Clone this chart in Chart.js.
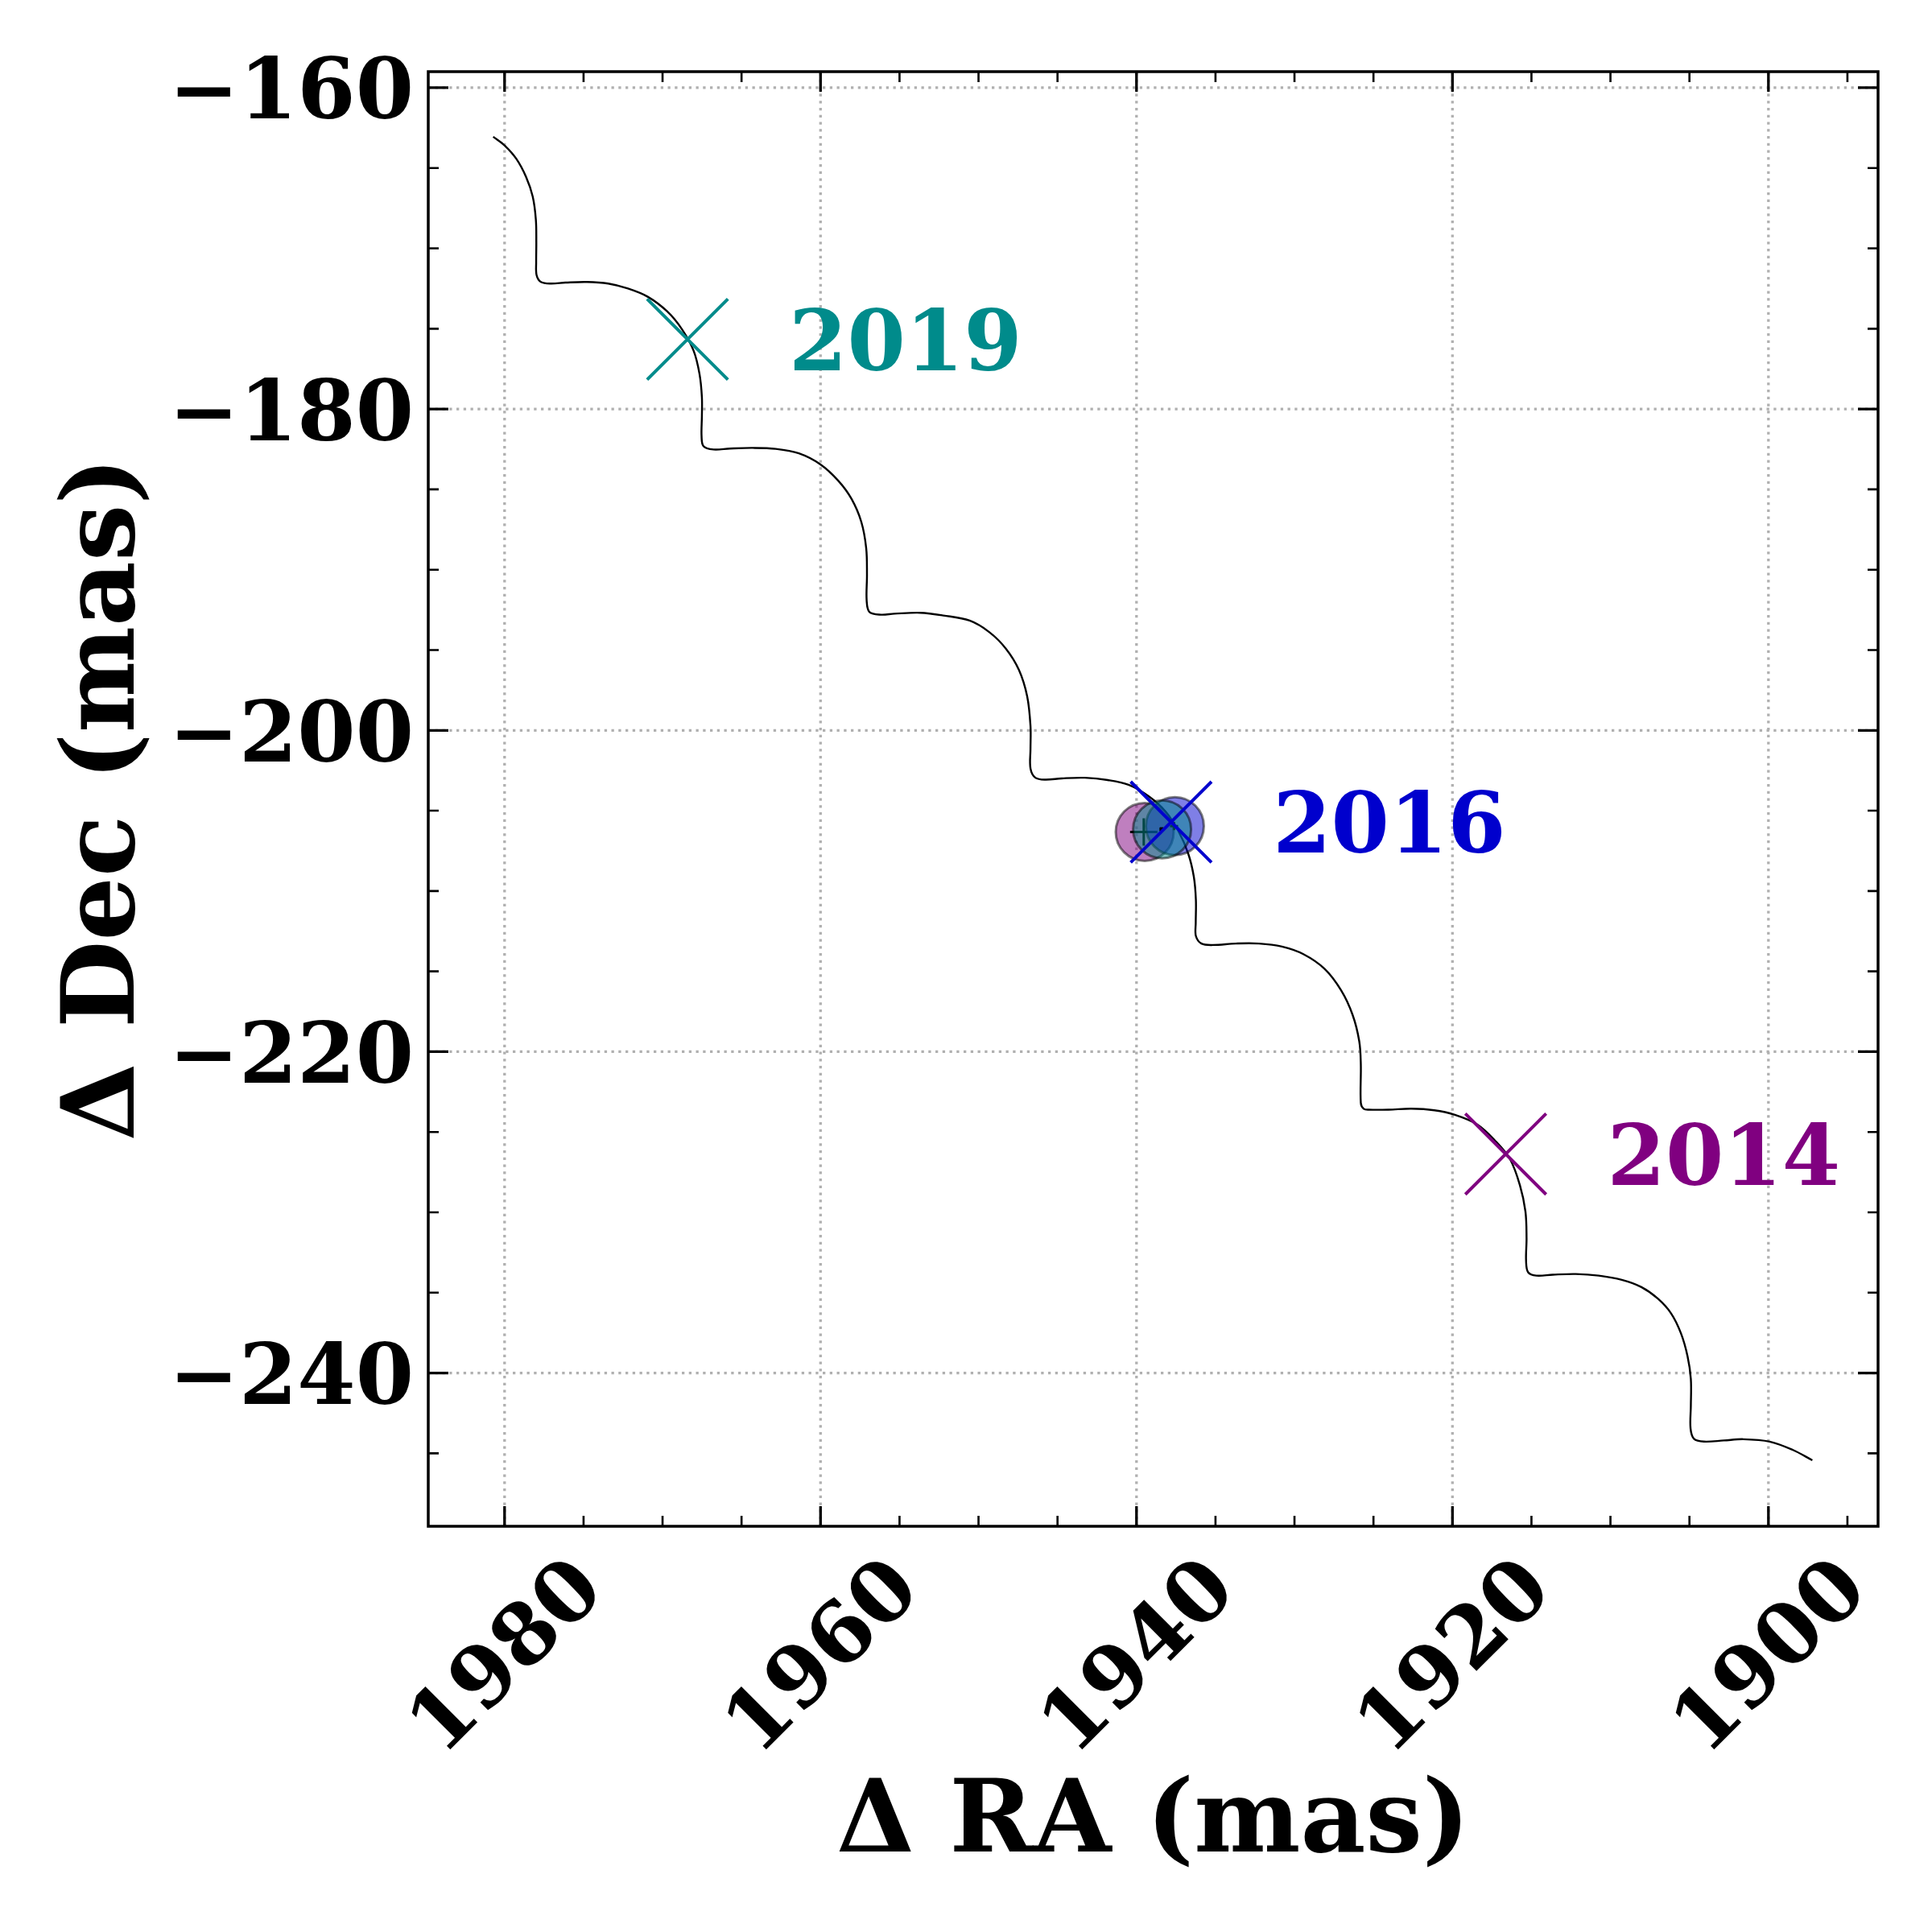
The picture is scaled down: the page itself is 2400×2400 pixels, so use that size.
<!DOCTYPE html>
<html><head><meta charset="utf-8">
<script src="https://cdn.jsdelivr.net/npm/chart.js@4.4.1/dist/chart.umd.min.js"></script>
<style>html,body{margin:0;padding:0;background:#fff;overflow:hidden;}#wrap{width:2400px;height:2400px;}</style>
</head><body><div id="wrap"><canvas id="c" width="2400" height="2400"></canvas></div>
<script>
// Parallax / proper-motion track (Delta RA, Delta Dec in mas)
const trackRA = [1980.72,1979.99,1979.26,1978.64,1978.22,1978.02,1977.99,1978.0,1977.97,1977.7,1977.08,1976.14,1974.79,1973.44,1972.19,1970.94,1969.7,1968.76,1968.03,1967.66,1967.51,1967.51,1967.53,1967.41,1966.78,1965.74,1964.29,1962.83,1961.37,1960.02,1958.88,1958.04,1957.42,1957.11,1957.06,1957.08,1956.9,1956.17,1955.34,1953.68,1952.22,1950.56,1949.31,1948.27,1947.44,1946.92,1946.71,1946.71,1946.71,1946.4,1945.77,1944.73,1943.27,1941.82,1940.47,1939.22,1938.18,1937.35,1936.72,1936.37,1936.24,1936.25,1936.24,1935.89,1935.16,1933.71,1932.25,1930.79,1929.44,1928.09,1927.05,1926.32,1925.9,1925.8,1925.8,1925.62,1925.3,1924.05,1922.6,1921.14,1919.89,1918.44,1917.29,1916.36,1915.73,1915.38,1915.31,1915.34,1915.21,1914.69,1913.65,1912.19,1910.74,1909.28,1908.04,1907.0,1906.16,1905.54,1905.12,1904.91,1904.91,1904.93,1904.71,1904.08,1902.83,1901.59,1899.92,1898.47,1897.22];
const trackDec = [-163.05,-163.6,-164.42,-165.55,-166.77,-168.2,-169.64,-170.86,-171.68,-172.09,-172.19,-172.13,-172.09,-172.19,-172.5,-173.01,-173.93,-175.05,-176.38,-177.82,-179.25,-180.47,-181.7,-182.31,-182.52,-182.46,-182.42,-182.48,-182.76,-183.44,-184.46,-185.59,-187.02,-188.65,-190.29,-191.93,-192.64,-192.8,-192.74,-192.68,-192.85,-193.17,-193.89,-194.91,-196.24,-197.88,-199.72,-201.15,-202.37,-202.95,-203.07,-202.99,-202.95,-203.09,-203.4,-204.11,-205.03,-206.26,-207.69,-209.12,-210.55,-211.99,-212.8,-213.27,-213.36,-213.27,-213.27,-213.46,-213.93,-214.85,-216.18,-217.71,-219.35,-220.78,-223.19,-223.55,-223.61,-223.61,-223.55,-223.65,-223.92,-224.53,-225.55,-226.68,-228.31,-229.95,-231.59,-233.02,-233.73,-233.94,-233.88,-233.84,-233.94,-234.2,-234.65,-235.37,-236.29,-237.52,-238.95,-240.38,-242.02,-243.45,-244.1,-244.27,-244.2,-244.12,-244.27,-244.78,-245.43];

// Predicted positions at epochs (X markers) and their labels
const epochNames = ['2019','2016','2014'];
const epochRA = [1968.42,1937.81,1916.63];
const epochDec = [-175.66,-205.71,-226.37];
const epochColors = ['#008b8b','#0000cd','#800080'];
const epochLabelRA = [1962.0,1931.37,1910.2];

// Measured positions (circles): 2014 purple, 2016 blue, 2019 teal
const measRA = [1939.48,1937.57,1938.38];
const measDec = [-206.32,-205.96,-206.16];
const measColors = ['rgba(128,0,128,0.5)','rgba(0,0,205,0.5)','rgba(0,139,139,0.5)'];
// small central markers
const plusRA = [1939.54,1937.62];
const plusDec = [-206.32,-205.96];
const dotRA = [1938.41];
const dotDec = [-206.16];

// Axes
const xMin = 1893.06, xMax = 1984.83;
const yMin = -249.54, yMax = -159.0;
const xTicks = [1980,1960,1940,1920,1900];
const xTickLabels = ['1980','1960','1940','1920','1900'];
const yTicks = [-160,-180,-200,-220,-240];
const yTickLabels = ['\u2212160','\u2212180','\u2212200','\u2212220','\u2212240'];
const minorStep = 5;
const xTitle = '\u0394 RA (mas)';
const yTitle = '\u0394 Dec (mas)';

const FONT = '"DejaVu Serif", "Liberation Serif", serif';
const TICK_PX = 104, TITLE_PX = 125;

const pts = (xs, ys) => xs.map((x, i) => ({x: x, y: ys[i]}));

const datasets = [];
datasets.push({data: pts(trackRA, trackDec), showLine: true, borderColor: '#000', borderWidth: 2.4,
  pointRadius: 0, tension: 0.35, fill: false, order: 30});
// purple circle
datasets.push({data: pts([measRA[0]], [measDec[0]]), pointRadius: 36, pointBackgroundColor: measColors[0],
  pointBorderColor: 'rgba(0,0,0,0.5)', pointBorderWidth: 3, order: 29});
datasets.push({data: pts([plusRA[0]], [plusDec[0]]), pointStyle: 'cross', pointRadius: 17,
  pointBorderColor: '#000', pointBorderWidth: 3, order: 28});
// blue circle
datasets.push({data: pts([measRA[1]], [measDec[1]]), pointRadius: 36, pointBackgroundColor: measColors[1],
  pointBorderColor: 'rgba(0,0,0,0.5)', pointBorderWidth: 3, order: 27});
datasets.push({data: pts([plusRA[1]], [plusDec[1]]), pointStyle: 'cross', pointRadius: 5,
  pointBorderColor: '#000', pointBorderWidth: 3, order: 26});
// teal circle
datasets.push({data: pts([measRA[2]], [measDec[2]]), pointRadius: 36, pointBackgroundColor: measColors[2],
  pointBorderColor: 'rgba(0,0,0,0.5)', pointBorderWidth: 3, order: 25});
datasets.push({data: pts(dotRA, dotDec), pointStyle: 'rect', pointRadius: 3,
  pointBackgroundColor: '#000', pointBorderColor: '#000', pointBorderWidth: 1, order: 24});
// X markers
epochRA.forEach((x, i) => {
  datasets.push({data: [{x: x, y: epochDec[i]}], pointStyle: 'crossRot', pointRadius: 71,
    pointBorderColor: epochColors[i], pointBorderWidth: 4, order: 10 - i});
});

const axesPlugin = {
  id: 'mplAxes',
  beforeDatasetsDraw(chart) {
    const {ctx, chartArea: a, scales: {x, y}} = chart;
    ctx.save();
    ctx.strokeStyle = '#b0b0b0';
    ctx.lineWidth = 3.3;
    ctx.setLineDash([3.3, 5.45]);
    xTicks.forEach(v => {
      const px = x.getPixelForValue(v);
      ctx.beginPath(); ctx.moveTo(px, a.bottom); ctx.lineTo(px, a.top); ctx.stroke();
    });
    yTicks.forEach(v => {
      const py = y.getPixelForValue(v);
      ctx.beginPath(); ctx.moveTo(a.left, py); ctx.lineTo(a.right, py); ctx.stroke();
    });
    ctx.restore();
  },
  afterDatasetsDraw(chart) {
    const {ctx, chartArea: a, scales: {x, y}} = chart;
    ctx.save();
    // annotation labels
    ctx.font = 'bold ' + TICK_PX + 'px ' + FONT;
    ctx.textAlign = 'left';
    ctx.textBaseline = 'alphabetic';
    epochNames.forEach((t, i) => {
      ctx.fillStyle = epochColors[i];
      ctx.fillText(t, x.getPixelForValue(epochLabelRA[i]), y.getPixelForValue(epochDec[i]) + 38);
    });
    // ticks
    ctx.strokeStyle = '#000';
    const drawTickX = (v, len, w) => {
      const px = x.getPixelForValue(v);
      ctx.lineWidth = w;
      ctx.beginPath();
      ctx.moveTo(px, a.bottom); ctx.lineTo(px, a.bottom - len);
      ctx.moveTo(px, a.top); ctx.lineTo(px, a.top + len);
      ctx.stroke();
    };
    const drawTickY = (v, len, w) => {
      const py = y.getPixelForValue(v);
      ctx.lineWidth = w;
      ctx.beginPath();
      ctx.moveTo(a.left, py); ctx.lineTo(a.left + len, py);
      ctx.moveTo(a.right, py); ctx.lineTo(a.right - len, py);
      ctx.stroke();
    };
    for (let v = Math.ceil(xMin / minorStep) * minorStep; v <= xMax; v += minorStep) {
      if (xTicks.indexOf(v) >= 0) drawTickX(v, 25, 3.3); else drawTickX(v, 13, 2.6);
    }
    for (let v = Math.ceil(yMin / minorStep) * minorStep; v <= yMax; v += minorStep) {
      if (yTicks.indexOf(v) >= 0) drawTickY(v, 25, 3.3); else drawTickY(v, 13, 2.6);
    }
    // frame
    ctx.lineWidth = 3.5;
    ctx.strokeRect(a.left, a.top, a.right - a.left, a.bottom - a.top);
    // tick labels
    ctx.fillStyle = '#000';
    ctx.font = 'bold ' + TICK_PX + 'px ' + FONT;
    ctx.textAlign = 'right';
    yTicks.forEach((v, i) => {
      ctx.fillText(yTickLabels[i], a.left - 18, y.getPixelForValue(v) + 38.5);
    });
    ctx.textAlign = 'center';
    xTicks.forEach((v, i) => {
      const px = x.getPixelForValue(v);
      ctx.save();
      ctx.translate(px - 2, a.bottom + 158);
      ctx.rotate(-Math.PI / 4);
      ctx.fillText(xTickLabels[i], 0, 38);
      ctx.restore();
    });
    // axis titles
    ctx.font = 'bold ' + TITLE_PX + 'px ' + FONT;
    ctx.textAlign = 'center';
    ctx.fillText(xTitle, (a.left + a.right) / 2, 2300);
    ctx.save();
    ctx.translate(166, (a.top + a.bottom) / 2);
    ctx.rotate(-Math.PI / 2);
    ctx.fillText(yTitle, 0, 0);
    ctx.restore();
    ctx.restore();
  }
};

new Chart(document.getElementById('c'), {
  type: 'scatter',
  data: {datasets: datasets},
  options: {
    responsive: false,
    animation: false,
    devicePixelRatio: 1,
    events: [],
    layout: {autoPadding: false, padding: {left: 532, top: 89, right: 67, bottom: 504}},
    plugins: {legend: {display: false}, tooltip: {enabled: false}},
    scales: {
      x: {type: 'linear', reverse: true, min: xMin, max: xMax, display: false},
      y: {type: 'linear', min: yMin, max: yMax, display: false}
    }
  },
  plugins: [axesPlugin]
});
</script></body></html>
